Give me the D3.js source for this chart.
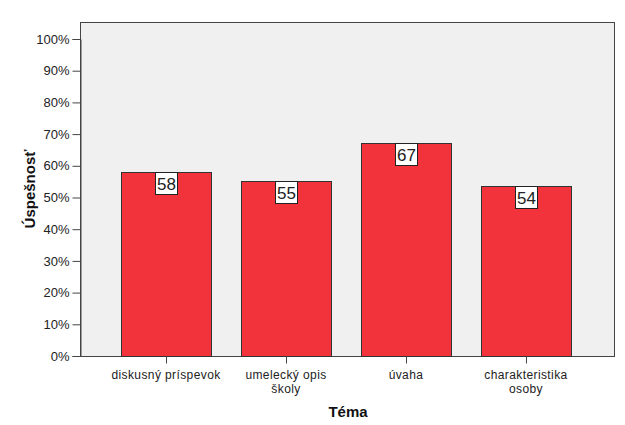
<!DOCTYPE html>
<html><head><meta charset="utf-8">
<script src="https://cdn.jsdelivr.net/npm/d3@7"></script>
<style>body{margin:0;background:#fff}</style>
</head><body>
<svg id="c" width="625" height="425"></svg>
<script>
const categories = [["diskusný príspevok"], ["umelecký opis", "školy"], ["úvaha"], ["charakteristika", "osoby"]];
const values = [58.0, 55.1, 67.3, 53.6];
const yTicks = [0, 10, 20, 30, 40, 50, 60, 70, 80, 90, 100];

const svg = d3.select("#c");
const font = "Liberation Sans, Arial, sans-serif";
const m = {l: 80, r: 612, t: 22, b: 356};
const x = d3.scaleBand().domain(d3.range(categories.length)).range([m.l, m.r]).paddingInner(0.25).paddingOuter(0.342);
const y = d3.scaleLinear().domain([0, 100]).range([m.b, 39]);

svg.append("rect").attr("x", m.l + 0.5).attr("y", m.t + 0.5).attr("width", m.r + 2 - m.l).attr("height", m.b - m.t)
  .attr("fill", "#f0f0f0").attr("stroke", "#444").attr("stroke-width", 1);

svg.selectAll(".bar").data(values).enter().append("rect")
  .attr("x", (d, i) => Math.round(x(i)) + 0.5).attr("width", Math.round(x.bandwidth()))
  .attr("y", d => Math.round(y(d)) + 0.5).attr("height", d => m.b - Math.round(y(d)))
  .attr("fill", "#f2333c").attr("stroke", "#333").attr("stroke-width", 1);

// y axis
const ya = svg.append("g").attr("transform", `translate(${m.l + 0.5},0)`)
  .call(d3.axisLeft(y).tickValues(yTicks).tickSize(8).tickPadding(3).tickFormat(d => d + "%"));
ya.select(".domain").attr("stroke", "#444");
ya.selectAll("line").attr("stroke", "#444");
ya.selectAll("text").attr("font-family", font).attr("font-size", 13).attr("fill", "#222");

// x axis
const xa = svg.append("g").attr("transform", `translate(0.5,${m.b + 0.5})`)
  .call(d3.axisBottom(x).tickSize(7).tickFormat(""));
xa.select(".domain").remove();
xa.selectAll("line").attr("stroke", "#444");
categories.forEach((lines, i) => {
  const cx = x(i) + x.bandwidth() / 2;
  const t = svg.append("text").attr("x", cx).attr("y", 379)
    .attr("text-anchor", "middle").attr("font-family", font).attr("font-size", 12)
    .attr("letter-spacing", 0.4).attr("fill", "#222");
  lines.forEach((l, j) => t.append("tspan").attr("x", cx).attr("dy", j ? 14 : 0).text(l));
});

// value labels
values.forEach((v, i) => {
  const cx = x(i) + x.bandwidth() / 2;
  const top = Math.round(y(v));
  svg.append("rect").attr("x", Math.round(cx - 11) + 0.5).attr("y", top + 0.5).attr("width", 22).attr("height", 22)
    .attr("fill", "#fff").attr("stroke", "#222");
  svg.append("text").attr("x", cx + 0.5).attr("y", top + 18).attr("text-anchor", "middle")
    .attr("font-family", font).attr("font-size", 17).attr("fill", "#222").text(Math.round(v));
});

svg.append("text").attr("x", (m.l + m.r) / 2 + 2).attr("y", 417).attr("text-anchor", "middle")
  .attr("font-family", font).attr("font-weight", "bold").attr("font-size", 15).attr("fill", "#111").text("Téma");
svg.append("text").attr("transform", `translate(35,${(m.t + m.b) / 2}) rotate(-90)`).attr("text-anchor", "middle")
  .attr("font-family", font).attr("font-weight", "bold").attr("font-size", 15).attr("fill", "#111").text("Úspešnosť");
</script>
</body></html>
